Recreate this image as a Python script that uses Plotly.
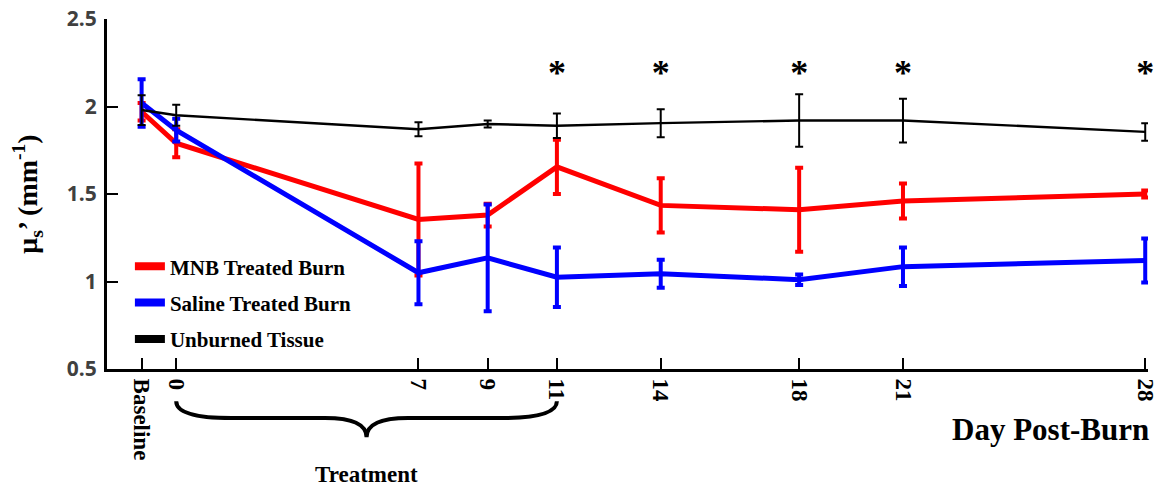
import plotly.graph_objects as go

# ---- data ----
days = [-1, 0, 7, 9, 11, 14, 18, 21, 28]
tick_labels = ["Baseline", "0", "7", "9", "11", "14", "18", "21", "28"]

mnb_mean = [1.97, 1.79, 1.355, 1.38, 1.655, 1.435, 1.41, 1.46, 1.50]
mnb_err = [0.05, 0.08, 0.32, 0.065, 0.155, 0.155, 0.24, 0.10, 0.02]

saline_mean = [2.02, 1.865, 1.05, 1.135, 1.025, 1.045, 1.01, 1.085, 1.12]
saline_err = [0.135, 0.065, 0.18, 0.305, 0.17, 0.08, 0.03, 0.11, 0.125]

unburned_mean = [1.98, 1.95, 1.87, 1.90, 1.89, 1.905, 1.92, 1.92, 1.855]
unburned_err = [0.085, 0.06, 0.04, 0.02, 0.07, 0.08, 0.15, 0.125, 0.05]

sig_days = [11, 14, 18, 21, 28]
sig_level = [2.175, 2.175, 2.175, 2.175, 2.175]

y_ticks = [0.5, 1, 1.5, 2, 2.5]
y_tick_labels = ["0.5", "1", "1.5", "2", "2.5"]

series_names = ["MNB Treated Burn", "Saline Treated Burn", "Unburned Tissue"]
series_colors = ["#ff0000", "#0000ff", "#000000"]

SERIF = "Liberation Serif"

fig = go.Figure()

def add_series(mean, err, color, lw, ew):
    fig.add_trace(go.Scatter(
        x=days, y=mean, mode="lines",
        line=dict(color=color, width=lw),
        error_y=dict(type="data", array=err, visible=True, color=color,
                     thickness=ew, width=4),
        showlegend=False, hoverinfo="x+y"))

add_series(mnb_mean, mnb_err, series_colors[0], 5, 4)
add_series(saline_mean, saline_err, series_colors[1], 5, 4)
add_series(unburned_mean, unburned_err, series_colors[2], 2.4, 2)

# legend-only traces
for i, (name, col) in enumerate(zip(series_names, series_colors)):
    fig.add_trace(go.Scatter(x=[None], y=[None], mode="lines", name=name,
                             legendgroup=f"g{i}",
                             line=dict(color=col, width=8)))

# significance asterisks
fig.add_trace(go.Scatter(
    x=sig_days, y=sig_level, mode="text", text=["*"] * len(sig_days),
    textfont=dict(family=SERIF, size=36, color="black", weight="bold"),
    showlegend=False, hoverinfo="skip", cliponaxis=False))

# treatment brace (days 0..11), below the axis
fig.add_shape(type="path", xref="x", yref="paper",
              path="M 0,-0.092 Q 0,-0.14 1.6,-0.14 L 4.3,-0.14 Q 5.5,-0.14 5.5,-0.195 "
                   "Q 5.5,-0.14 6.7,-0.14 L 9.4,-0.14 Q 11,-0.14 11,-0.092",
              line=dict(color="black", width=4))

fig.add_annotation(x=5.5, xref="x", y=-0.3, yref="paper", text="Treatment",
                   showarrow=False, yanchor="middle",
                   font=dict(family=SERIF, size=23, color="black", weight="bold"))
fig.add_annotation(x=1.0, xref="paper", y=-0.174, yref="paper", text="Day Post-Burn",
                   showarrow=False, xanchor="right", yanchor="middle", xshift=3,
                   font=dict(family=SERIF, size=31, color="black", weight="bold"))

fig.update_layout(
    width=1161, height=481,
    margin=dict(l=99, r=21, t=11, b=120),
    paper_bgcolor="white", plot_bgcolor="white",
    showlegend=True,
    legend=dict(x=0.022, y=0.351, xanchor="left", yanchor="top",
                bgcolor="rgba(0,0,0,0)",
                font=dict(family=SERIF, size=21, color="black", weight="bold"),
                itemwidth=30, tracegroupgap=6),
)

fig.update_xaxes(
    range=[-2, 28.08], showgrid=False, zeroline=False, automargin=False,
    showline=True, linecolor="black", linewidth=3,
    tickmode="array", tickvals=days, ticktext=tick_labels,
    ticks="inside", ticklen=11, tickwidth=2, tickcolor="black",
    tickangle=90, ticklabelstandoff=2, ticklabeloverflow="allow",
    tickfont=dict(family=SERIF, size=23, color="black", weight="bold"),
)
fig.update_yaxes(
    range=[0.5, 2.5], showgrid=False, zeroline=False, automargin=False,
    showline=True, linecolor="black", linewidth=3,
    tickmode="array", tickvals=y_ticks, ticktext=y_tick_labels,
    ticks="inside", ticklen=11, tickwidth=2, tickcolor="black",
    ticklabelstandoff=3, ticklabeloverflow="allow",
    tickfont=dict(family="Open Sans", size=21, color="#404040", weight="bold"),
    title=dict(text="μ<sub>s</sub>’ (mm<sup>-1</sup>)", standoff=22,
               font=dict(family=SERIF, size=28, color="black", weight="bold")),
)

fig.write_html("out.html")
